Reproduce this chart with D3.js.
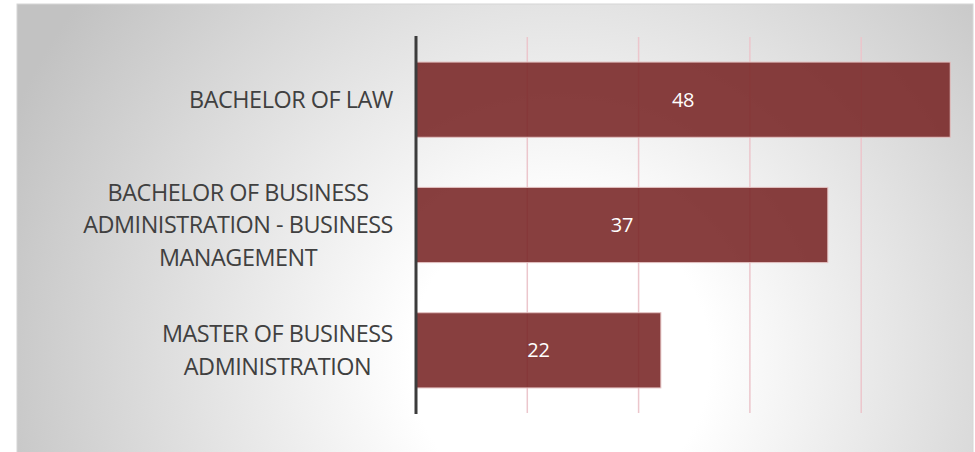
<!DOCTYPE html>
<html>
<head>
<meta charset="utf-8">
<script src="https://cdn.jsdelivr.net/npm/d3@7"></script>
<style>
  body { margin: 0; background: #fff; }
  svg { display: block; font-family: "Open Sans", sans-serif; }
</style>
</head>
<body>
<script>
var programs = [
  ["BACHELOR OF LAW"],
  ["BACHELOR OF BUSINESS", "ADMINISTRATION - BUSINESS", "MANAGEMENT"],
  ["MASTER OF BUSINESS", "ADMINISTRATION"]
];
var students = [48, 37, 22];
var gridTicks = [10, 20, 30, 40];

var width = 975,
    height = 452;

var svg = d3.select("body").append("svg")
    .attr("width", width)
    .attr("height", height);

// background: soft radial gradient, white in the middle
var grad = svg.append("defs").append("radialGradient")
    .attr("id", "bg")
    .attr("gradientUnits", "userSpaceOnUse")
    .attr("cx", 560).attr("cy", 360).attr("r", 600);
grad.append("stop").attr("offset", "0%").attr("stop-color", "#ffffff");
grad.append("stop").attr("offset", "25%").attr("stop-color", "#ffffff");
grad.append("stop").attr("offset", "100%").attr("stop-color", "#c2c2c2");

svg.append("rect")
    .attr("x", 17).attr("y", 4)
    .attr("width", 956).attr("height", 452)
    .attr("fill", "url(#bg)")
    .attr("stroke", "#d6d6d6");

var x = d3.scaleLinear()
    .domain([0, 50])
    .range([416, 972.5]);

var y = d3.scaleBand()
    .domain(d3.range(programs.length))
    .range([37, 413])
    .paddingInner(0.4)
    .paddingOuter(0.2);

// gridlines
svg.append("g").selectAll("line")
    .data(gridTicks)
  .enter().append("line")
    .attr("x1", function(d) { return x(d); })
    .attr("x2", function(d) { return x(d); })
    .attr("y1", 37)
    .attr("y2", 413)
    .attr("stroke", "#ecc6cc")
    .attr("stroke-width", 1.5);

// bars
svg.append("g").selectAll("rect")
    .data(students)
  .enter().append("rect")
    .attr("x", x(0))
    .attr("y", function(d, i) { return y(i); })
    .attr("width", function(d) { return x(d) - x(0); })
    .attr("height", y.bandwidth())
    .attr("fill", "rgb(120,36,36)")
    .attr("fill-opacity", 0.88)
    .attr("stroke", "#e4c2c2")
    .attr("stroke-width", 1);

// value labels
svg.append("g").selectAll("text")
    .data(students)
  .enter().append("text")
    .attr("x", function(d) { return (x(0) + x(d)) / 2; })
    .attr("y", function(d, i) { return y(i) + y.bandwidth() / 2; })
    .attr("dy", "0.35em")
    .attr("text-anchor", "middle")
    .attr("fill", "#ffffff")
    .style("font-size", "20px")
    .style("letter-spacing", "-0.3px")
    .text(function(d) { return d; });

// category axis line
svg.append("line")
    .attr("x1", x(0)).attr("x2", x(0))
    .attr("y1", 36).attr("y2", 414)
    .attr("stroke", "#3c3c3c")
    .attr("stroke-width", 3);

// category labels: lines centered on each other, block right-aligned
var lineH = 32.5;
var labels = svg.append("g").selectAll("g")
    .data(programs)
  .enter().append("g");

labels.each(function(lines, i) {
  var g = d3.select(this);
  var cy = y(i) + y.bandwidth() / 2;
  var t = g.selectAll("text")
      .data(lines)
    .enter().append("text")
      .attr("y", function(d, j) { return cy + (j - (lines.length - 1) / 2) * lineH; })
      .attr("dy", "0.35em")
      .attr("text-anchor", "middle")
      .attr("fill", "#404040")
      .style("font-size", "23.4px")
      .style("letter-spacing", "-0.45px")
      .text(function(d) { return d; });
  var maxW = 0;
  t.each(function() { maxW = Math.max(maxW, this.getComputedTextLength()); });
  t.attr("x", 393 - maxW / 2);
});
</script>
</body>
</html>
